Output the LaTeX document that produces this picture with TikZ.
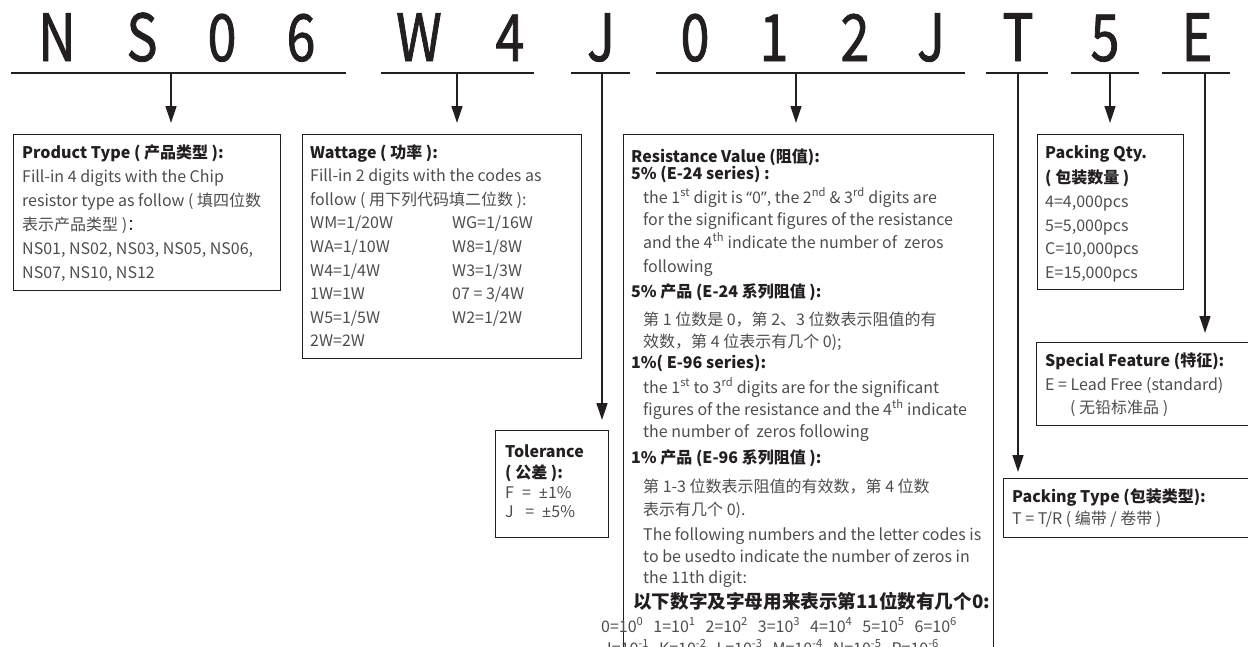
\documentclass[tikz,border=0pt]{standalone}
\usepackage{fontspec}
\setmainfont{Noto Sans CJK SC}
\newfontfamily\latf{Noto Sans}
\newfontfamily\condf[FakeStretch=0.8,FakeBold=1.2]{Noto Sans CJK SC}
\usetikzlibrary{arrows.meta}
\definecolor{ink}{HTML}{231F20}
\definecolor{bodyc}{HTML}{4D4D4D}
\tikzset{
 uline/.style={draw=ink, line width=1.3pt},
 conn/.style={draw=ink, line width=1.3pt, -{Triangle[width=11pt,length=17pt]}},
 boxs/.style={draw=ink, line width=1.2pt, inner sep=0pt, anchor=north west},
 hd/.style={font=\fontsize{16}{18}\selectfont\bfseries, text=ink, inner sep=0pt, anchor=base west},
 bd/.style={font=\fontsize{16}{18}\selectfont, text=bodyc, inner sep=0pt, anchor=base west},
 bigh/.style={font=\fontsize{18.6}{21}\selectfont\bfseries, text=ink, inner sep=0pt, anchor=base west},
 sm/.style={font=\fontsize{16}{18}\selectfont, text=bodyc, inner sep=0pt, anchor=base west},
 letter/.style={font=\condf\fontsize{65}{70}\selectfont, text=ink, inner sep=0pt, anchor=base},
}
\newcommand\gp{\hspace{10pt}}
\newcommand\sq{\hspace{8pt}}
\begin{document}
\begin{tikzpicture}[x=1pt,y=-1pt]
\useasboundingbox (0,0) rectangle (1248,646);
\clip (0,0) rectangle (1248,646);
% code letters
\node[letter] (L1) at (57,61) {N};
\node[letter] (L2) at (142,61) {S};
\node[letter] (L3) at (222,61) {0};
\node[letter] (L4) at (301,61) {6};
\node[letter] (L5) at (419,61) {W};
\node[letter] (L6) at (510,61) {4};
\node[letter] (L7) at (601,61) {J};
\node[letter] (L8) at (695,61) {0};
\node[letter] (L9) at (774,61) {1};
\node[letter] (L10) at (855,61) {2};
\node[letter] (L11) at (931,61) {J};
\node[letter] (L12) at (1018,61) {T};
\node[letter] (L13) at (1105,61) {5};
\node[letter] (L14) at (1197,61) {E};
% underlines
\coordinate (u1a) at (11,73);  \coordinate (u1b) at (346,73);  \coordinate (s1) at (171,73);
\coordinate (u2a) at (381,73); \coordinate (u2b) at (534,73);  \coordinate (s2) at (457,73);
\coordinate (u3a) at (571,73); \coordinate (u3b) at (630,73);  \coordinate (s3) at (602,73);
\coordinate (u4a) at (656,73); \coordinate (u4b) at (965,73);  \coordinate (s4) at (796,73);
\coordinate (u5a) at (986,73); \coordinate (u5b) at (1048,73); \coordinate (s5) at (1018,73);
\coordinate (u6a) at (1071,73);\coordinate (u6b) at (1139,73); \coordinate (s6) at (1110,73);
\coordinate (u7a) at (1162,73);\coordinate (u7b) at (1230,73); \coordinate (s7) at (1205,73);
\foreach \i in {1,...,7} {\draw[uline] (u\i a) -- (u\i b);}
% boxes
\node[boxs, minimum width=267pt, minimum height=156pt] (pt) at (13,134) {};
\node[boxs, minimum width=279pt, minimum height=224pt] (wt) at (302,134) {};
\node[boxs, minimum width=113pt, minimum height=107pt] (tol) at (495,430) {};
\node[boxs, minimum width=370pt, minimum height=560pt] (rv) at (623,134) {};
\node[boxs, minimum width=146pt, minimum height=155pt] (pq) at (1037,134) {};
\node[boxs, minimum width=240pt, minimum height=83pt] (sf) at (1036,342) {};
\node[boxs, minimum width=270pt, minimum height=59pt] (ptp) at (1003,478) {};
% connectors
\draw[conn, shorten >=11pt] (s1) -- (s1 |- pt.north);
\draw[conn, shorten >=11pt] (s2) -- (s2 |- wt.north);
\draw[conn, shorten >=10pt] (s3) -- (s3 |- tol.north);
\draw[conn, shorten >=11pt] (s4) -- (s4 |- rv.north);
\draw[conn, shorten >=6pt] (s5) -- (s5 |- ptp.north);
\draw[conn, shorten >=11pt] (s6) -- (s6 |- pq.north);
\draw[conn, shorten >=9pt] (s7) -- (s7 |- sf.north);
% Product Type
\node[hd] (pt1) at (22,158) {Product Type ( 产品类型 ):};
\node[bd] (pt2) at (22,182) {Fill-in 4 digits with the Chip};
\node[bd] (pt3) at (22,206) {resistor type as follow ( 填四位数};
\node[bd] (pt4) at (22,230) {表示产品类型 )\textcolor{ink}{：}};
\node[bd] (pt5) at (22,254) {NS01, NS02, NS03, NS05, NS06,};
\node[bd] (pt6) at (22,278) {NS07, NS10, NS12};
% Wattage
\node[hd] (wt1) at (310,158) {Wattage ( 功率 ):};
\node[bd] (wt2) at (310,181.6) {Fill-in 2 digits with the codes as};
\node[bd] (wt3) at (310,205.2) {follow ( 用下列代码填二位数 ):};
\node[bd] (wt4) at (310,228.8) {WM=1/20W};
\node[bd] (wt5) at (452,228.8) {WG=1/16W};
\node[bd] (wt6) at (310,252.4) {WA=1/10W};
\node[bd] (wt7) at (452,252.4) {W8=1/8W};
\node[bd] (wt8) at (310,276) {W4=1/4W};
\node[bd] (wt9) at (452,276) {W3=1/3W};
\node[bd] (wt10) at (310,299.6) {1W=1W};
\node[bd] (wt11) at (452,299.6) {07 = 3/4W};
\node[bd] (wt12) at (310,323.2) {W5=1/5W};
\node[bd] (wt13) at (452,323.2) {W2=1/2W};
\node[bd] (wt14) at (310,346.8) {2W=2W};
% Tolerance
\node[hd] (tl1) at (505,457) {Tolerance};
\node[hd] (tl2) at (505,478) {( 公差 ):};
\node[bd] (tl3) at (505,498) {F\sq=\sq{\latf ±}1\%};
\node[bd] (tl4) at (505,517) {J\sq\ =\sq{\latf ±}5\%};
% Resistance Value
\node[hd] (rv1) at (631,162) {Resistance Value (阻值):};
\node[hd] (rv2) at (631,179) {5\% (E-24 series) :};
\node[bd] (rv3) at (643,203) {the 1\textsuperscript{st} digit is {\latf “}0{\latf ”}, the 2\textsuperscript{nd} \& 3\textsuperscript{rd} digits are};
\node[bd] (rv4) at (643,225) {for the significant figures of the resistance};
\node[bd] (rv5) at (643,248) {and the 4\textsuperscript{th} indicate the number of\ \ zeros};
\node[bd] (rv6) at (643,272) {following};
\node[hd] (rv7) at (631,297) {5\% 产品 (E-24 系列阻值 ):};
\node[bd] (rv8) at (643,325) {第 1 位数是 0，第 2、3 位数表示阻值的有};
\node[bd] (rv9) at (643,347) {效数，第 4 位表示有几个 0);};
\node[hd] (rv10) at (631,368) {1\%( E-96 series):};
\node[bd] (rv11) at (643,393) {the 1\textsuperscript{st} to 3\textsuperscript{rd} digits are for the significant};
\node[bd] (rv12) at (643,415) {figures of the resistance and the 4\textsuperscript{th} indicate};
\node[bd] (rv13) at (643,437) {the number of\ \ zeros following};
\node[hd] (rv14) at (631,463) {1\% 产品 (E-96 系列阻值 ):};
\node[bd] (rv15) at (643,492) {第 1-3 位数表示阻值的有效数，第 4 位数};
\node[bd] (rv16) at (643,515) {表示有几个 0).};
\node[bd] (rv17) at (643,540) {The following numbers and the letter codes is};
\node[bd] (rv18) at (643,562) {to be usedto indicate the number of zeros in};
\node[bd] (rv19) at (643,583) {the 11th digit:};
\node[bigh] (rv20) at (633,608) {以下数字及字母用来表示第11位数有几个0:};
\node[sm] (rv21) at (601,632) {0=10\textsuperscript{0}\gp 1=10\textsuperscript{1}\gp 2=10\textsuperscript{2}\gp 3=10\textsuperscript{3}\gp 4=10\textsuperscript{4}\gp 5=10\textsuperscript{5}\gp 6=10\textsuperscript{6}};
\node[sm] (rv22) at (603,654) {J=10\textsuperscript{-1}\gp K=10\textsuperscript{-2}\gp L=10\textsuperscript{-3}\gp M=10\textsuperscript{-4}\gp N=10\textsuperscript{-5}\gp P=10\textsuperscript{-6}};
% Packing Qty
\node[hd] (pq1) at (1045,158) {Packing Qty.};
\node[hd] (pq2) at (1045,183) {( 包装数量 )};
\node[bd] (pq3) at (1045,207) {4=4,000pcs};
\node[bd] (pq4) at (1045,231) {5=5,000pcs};
\node[bd] (pq5) at (1045,254) {C=10,000pcs};
\node[bd] (pq6) at (1045,278) {E=15,000pcs};
% Special Feature
\node[hd] (sf1) at (1045,366) {Special Feature (特征):};
\node[bd] (sf2) at (1045,390) {E = Lead Free (standard)};
\node[bd] (sf3) at (1070,413) {( 无铅标准品 )};
% Packing Type
\node[hd] (ptp1) at (1012,502) {Packing Type (包装类型):};
\node[bd] (ptp2) at (1012,524) {T = T/R ( 编带 / 卷带 )};
\end{tikzpicture}
\end{document}
